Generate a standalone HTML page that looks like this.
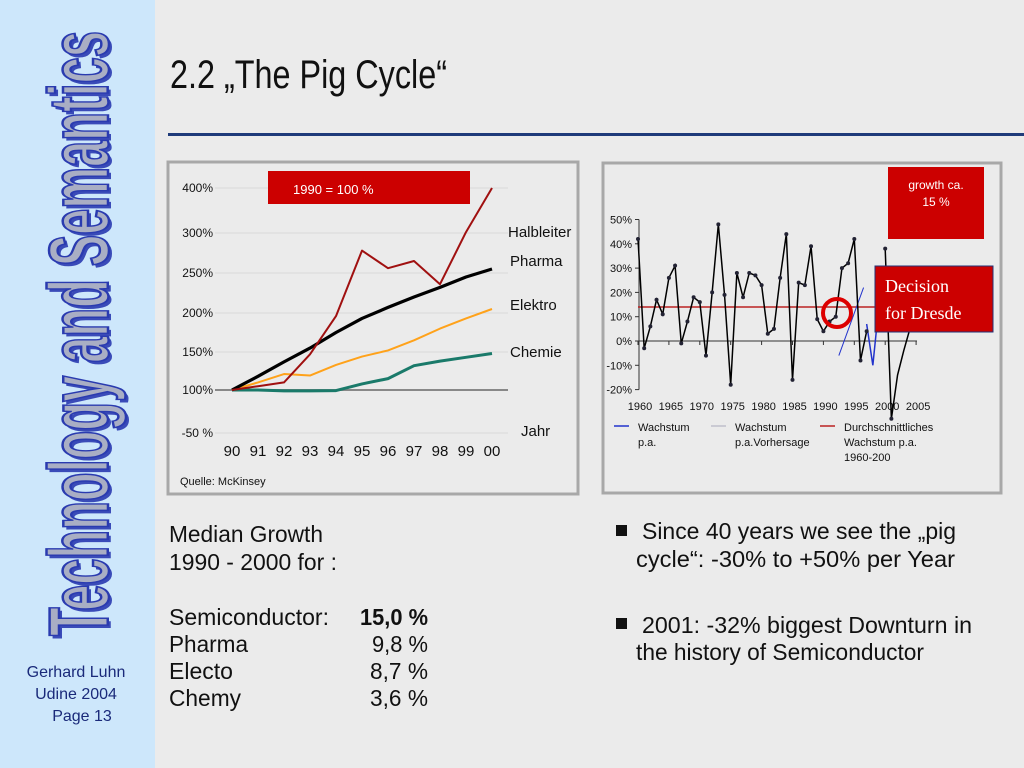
<!DOCTYPE html>
<html><head><meta charset="utf-8"><style>
html,body{margin:0;padding:0;width:1024px;height:768px;overflow:hidden;background:#ebebeb}
svg{display:block}
.n{font-family:"Liberation Sans Narrow","Liberation Sans",sans-serif}
.s{font-family:"Liberation Sans",sans-serif}
</style></head><body>
<svg id="root" width="1024" height="768" viewBox="0 0 1024 768" xmlns="http://www.w3.org/2000/svg">
<rect x="0" y="0" width="1024" height="768" fill="#ebebeb"/>
<rect x="0" y="0" width="155" height="768" fill="#cde7fb"/>
<text transform="translate(111,639) rotate(-90)" textLength="605" lengthAdjust="spacingAndGlyphs" font-size="84" font-weight="bold" fill="#3a4bb8" class="n">Technology and Semantics</text>
<text transform="translate(108,636) rotate(-90)" textLength="605" lengthAdjust="spacingAndGlyphs" font-size="84" font-weight="bold" fill="#a9aec4" stroke="#2a3bb0" stroke-width="2.5" class="n">Technology and Semantics</text>
<g class="s" font-size="16" fill="#1a2a7a" text-anchor="middle">
<text x="76" y="677">Gerhard Luhn</text><text x="76" y="699">Udine 2004</text><text x="82" y="721">Page 13</text></g>
<text x="170" y="88" font-size="40" textLength="277" lengthAdjust="spacingAndGlyphs" class="n" fill="#111">2.2 „The Pig Cycle“</text>
<rect x="168" y="133" width="856" height="3" fill="#1f3b7a"/>

<!-- left chart -->
<g>
<rect x="168" y="162" width="410" height="332" fill="#ebebeb" stroke="#a8a8a8" stroke-width="3"/>
<g id="lgrid"></g>
<rect x="268" y="171" width="202" height="33" fill="#cc0000"/>
<text x="293" y="194" font-size="13" fill="#fff" class="s">1990 = 100 %</text>
<g id="lchart"></g>
<text x="180" y="485" font-size="11" class="s" fill="#111">Quelle: McKinsey</text>
</g>

<!-- right chart -->
<g>
<rect x="603" y="163" width="398" height="330" fill="#ebebeb" stroke="#a8a8a8" stroke-width="3"/>
<g id="rchart"></g>
<rect x="888" y="167" width="96" height="72" fill="#cc0000"/>
<text x="936" y="189" font-size="12" fill="#fff" text-anchor="middle" class="s">growth ca.</text>
<text x="936" y="206" font-size="12" fill="#fff" text-anchor="middle" class="s">15 %</text>
<rect x="875" y="266" width="118" height="66" fill="#cc0000" stroke="#223377" stroke-width="1"/>
<text x="885" y="292" font-size="18" fill="#fff" font-family="Liberation Serif,serif">Decision</text>
<text x="885" y="319" font-size="18" fill="#fff" font-family="Liberation Serif,serif">for Dresde</text>
<g class="s" font-size="11" fill="#111">
<line x1="614" y1="426" x2="629" y2="426" stroke="#2233cc" stroke-width="1.5"/>
<text x="638" y="431">Wachstum</text><text x="638" y="446">p.a.</text>
<line x1="711" y1="426" x2="726" y2="426" stroke="#aab" stroke-width="1"/>
<text x="735" y="431">Wachstum</text><text x="735" y="446">p.a.Vorhersage</text>
<line x1="820" y1="426" x2="835" y2="426" stroke="#b22" stroke-width="1.5"/>
<text x="844" y="431">Durchschnittliches</text><text x="844" y="446">Wachstum p.a.</text><text x="844" y="461">1960-200</text>
</g>
</g>

<!-- bottom text -->
<g class="n" font-size="23" fill="#111">
<text x="169" y="542" textLength="154" lengthAdjust="spacingAndGlyphs">Median Growth</text>
<text x="169" y="570" textLength="168" lengthAdjust="spacingAndGlyphs">1990 - 2000 for :</text>
<text x="169" y="625" textLength="160" lengthAdjust="spacingAndGlyphs">Semiconductor:</text>
<text x="360" y="625" textLength="68" lengthAdjust="spacingAndGlyphs" font-weight="bold">15,0 %</text>
<text x="169" y="652" textLength="79" lengthAdjust="spacingAndGlyphs">Pharma</text>
<text x="372" y="652" textLength="56" lengthAdjust="spacingAndGlyphs">9,8 %</text>
<text x="169" y="679" textLength="64" lengthAdjust="spacingAndGlyphs">Electo</text>
<text x="370" y="679" textLength="58" lengthAdjust="spacingAndGlyphs">8,7 %</text>
<text x="169" y="706" textLength="72" lengthAdjust="spacingAndGlyphs">Chemy</text>
<text x="370" y="706" textLength="58" lengthAdjust="spacingAndGlyphs">3,6 %</text>
</g>
<g class="n" font-size="23" fill="#111">
<rect x="616" y="525" width="11" height="11" fill="#111"/>
<text x="642" y="539" textLength="314" lengthAdjust="spacingAndGlyphs">Since 40 years we see the „pig</text>
<text x="636" y="567" textLength="319" lengthAdjust="spacingAndGlyphs">cycle“:   -30% to +50% per Year</text>
<rect x="616" y="618" width="11" height="11" fill="#111"/>
<text x="642" y="633" textLength="330" lengthAdjust="spacingAndGlyphs">2001:  -32% biggest Downturn in</text>
<text x="636" y="660" textLength="288" lengthAdjust="spacingAndGlyphs">the history of Semiconductor</text>
</g>
</svg>
<script>
const NS="http://www.w3.org/2000/svg";
// left chart data
const years=["90","91","92","93","94","95","96","97","98","99","00"];
const yTicks=[-50,100,150,200,250,300,400];
const yTickLabels=["-50 %","100%","150%","200%","250%","300%","400%"];
const halbleiter=[100,105,110,147,196,278,256,265,236,302,400];
const pharma=[100,118,137,155,175,193,207,220,232,245,255];
const elektro=[100,110,121,119,133,144,152,165,180,193,205];
const chemie=[100,100,97,97,98,108,115,132,138,143,148];
// right chart data
const rYears=[];for(let y=1960;y<=2005;y++)rYears.push(y);
const growth=[42,-3,6,17,11,26,31,-1,8,18,16,-6,20,48,19,-18,28,18,28,27,23,3,5,26,44,-16,24,23,39,9,4,8,10,30,32,42,-8,4];
const growthLate=[38,-32,-14,-4,5]; // 2000..2004
const forecast=[-6,22]; // 1992.5 -> 1996.5
const rTicks=[-20,-10,0,10,20,30,40,50];
const xLabelYears=[1960,1965,1970,1975,1980,1985,1990,1995,2000,2005];
const avgGrowth=14;

function mk(tag,attrs,parent){const e=document.createElementNS(NS,tag);for(const k in attrs)e.setAttribute(k,attrs[k]);parent.appendChild(e);return e;}
const lx=i=>232+i*26;
const lMap=[[-50,433],[100,390],[150,352],[200,313],[250,273],[300,233],[400,188]];
function ly(v){for(let i=0;i<lMap.length-1;i++){const a=lMap[i],b=lMap[i+1];if(v<=b[0]||i==lMap.length-2)return a[1]+(v-a[0])*(b[1]-a[1])/(b[0]-a[0]);}}
const lg=document.getElementById('lgrid'),lc=document.getElementById('lchart');
yTicks.forEach((t,i)=>{
 const l=mk('line',{x1:215,x2:508,y1:ly(t),y2:ly(t),stroke:t==100?'#888':'#d8d8d8','stroke-width':t==100?2:1},lg);
 
 
 const tx=mk('text',{x:213,y:ly(t)+4,'font-size':12,'text-anchor':'end',class:'s',fill:'#111'},lg);tx.textContent=yTickLabels[i];
 
 
});
years.forEach((y,i)=>{const t=mk('text',{x:lx(i),y:456,'font-size':15,'text-anchor':'middle',class:'s',fill:'#111'},lc);t.textContent=y;
 
 });
const jahr=mk('text',{x:521,y:436,'font-size':15,class:'s',fill:'#111'},lc);jahr.textContent='Jahr';


function series(vals,color,w,name,label,ty){
 const p=mk('polyline',{points:vals.map((v,i)=>lx(i)+','+ly(v)).join(' '),fill:'none',stroke:color,'stroke-width':w,'stroke-linejoin':'round'},lc);
 
 
 const t=mk('text',{x:label[0],y:ty,'font-size':15,class:'s',fill:'#111'},lc);t.textContent=label[1];
 
 
}
series(chemie,'#1a7a6a',3,'chemie-line',[510,'Chemie'],357);
series(elektro,'#ffa21a',2,'elektro-line',[510,'Elektro'],310);
series(pharma,'#000',3.2,'pharma-line',[510,'Pharma'],266);
series(halbleiter,'#a01010',2,'halbleiter-line',[508,'Halbleiter'],237);

const rx=y=>638+(y-1960)*6.18;
const ry=v=>341-v*2.43;
const rc=document.getElementById('rchart');
mk('line',{x1:639,x2:639,y1:ry(50),y2:ry(-20),stroke:'#333'},rc);
mk('line',{x1:639,x2:917,y1:ry(0),y2:ry(0),stroke:'#333'},rc);
rTicks.forEach(t=>{mk('line',{x1:635,x2:639,y1:ry(t),y2:ry(t),stroke:'#333'},rc);
 const tx=mk('text',{x:632,y:ry(t)+4,'font-size':11,'text-anchor':'end',class:'s',fill:'#111'},rc);tx.textContent=t+'%';
 
 });
xLabelYears.forEach(y=>{mk('line',{x1:rx(y),x2:rx(y),y1:ry(0),y2:ry(0)+4,stroke:'#333'},rc);
 const tx=mk('text',{x:rx(y)+2,y:410,'font-size':11,'text-anchor':'middle',class:'s',fill:'#111'},rc);tx.textContent=y;
 
 });
const avg=mk('line',{x1:rx(1960),x2:rx(2000),y1:ry(avgGrowth),y2:ry(avgGrowth),stroke:'#b22','stroke-width':1.5},rc);


const fc=mk('line',{x1:rx(1992.5),x2:rx(1996.5),y1:ry(forecast[0]),y2:ry(forecast[1]),stroke:'#2233cc','stroke-width':1},rc);


const gl=mk('polyline',{points:growth.map((v,i)=>rx(1960+i)+','+ry(v)).join(' '),fill:'none',stroke:'#000','stroke-width':1.5},rc);


const bl=mk('polyline',{points:[[1997,7],[1998,-10],[1999,15]].map(p=>rx(p[0])+','+ry(p[1])).join(' '),fill:'none',stroke:'#2233cc','stroke-width':1.5},rc);


const gl2=mk('polyline',{points:growthLate.map((v,i)=>rx(2000+i)+','+ry(v)).join(' '),fill:'none',stroke:'#000','stroke-width':1.5},rc);


growth.concat(growthLate.slice(0,2)).forEach((v,i)=>{const yr=i<growth.length?1960+i:2000+i-growth.length;
 const d=mk('circle',{cx:rx(yr),cy:ry(v),r:2,fill:'#223'},rc);
 
 });
const ring=mk('circle',{cx:837,cy:313,r:14,fill:'none',stroke:'#d00','stroke-width':4},rc);


</script>
</body></html>
